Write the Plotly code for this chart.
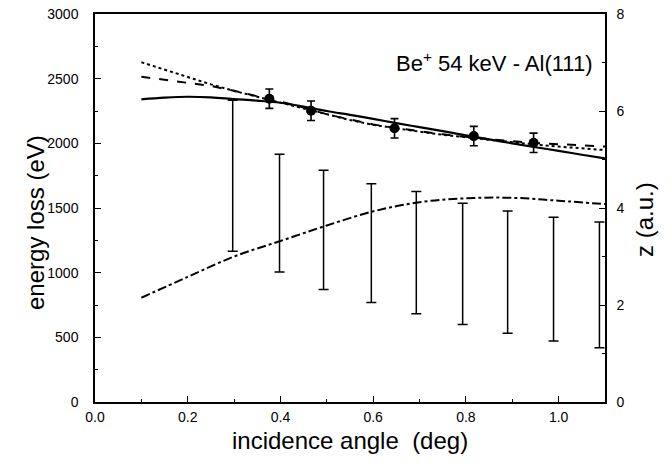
import plotly.graph_objects as go
import numpy as np

# ---- data ----
angle_curve = [0.1, 0.15, 0.2, 0.25, 0.3, 0.35, 0.4, 0.45, 0.5, 0.55, 0.6,
               0.65, 0.7, 0.75, 0.8, 0.85, 0.9, 0.95, 1.0, 1.05, 1.1]
loss_solid = [2340, 2353, 2360, 2355, 2342, 2330, 2314, 2284, 2250, 2220, 2189,
              2156, 2125, 2094, 2062, 2030, 2000, 1970, 1942, 1912, 1883]
loss_dashed = [2515, 2492, 2470, 2444, 2406, 2366, 2322, 2276, 2225, 2184, 2146,
               2118, 2093, 2070, 2050, 2032, 2016, 2003, 1993, 1983, 1975]
loss_dotted = [2627, 2568, 2512, 2456, 2405, 2360, 2316, 2272, 2222, 2180, 2143,
               2114, 2090, 2066, 2046, 2026, 2008, 1990, 1975, 1960, 1948]

angle_z = [0.1, 0.2, 0.3, 0.4, 0.5, 0.6, 0.7, 0.8, 0.9, 1.0, 1.1]
z_curve = [2.15, 2.58, 3.0, 3.32, 3.64, 3.93, 4.12, 4.2, 4.21, 4.15, 4.08]

angle_exp = [0.376, 0.466, 0.646, 0.817, 0.946]
loss_exp = [2345, 2252, 2116, 2056, 2004]
loss_err = [75, 75, 75, 75, 75]

angle_range = [0.297, 0.398, 0.493, 0.596, 0.693, 0.793, 0.890, 0.989, 1.088]
z_top = [6.22, 5.11, 4.78, 4.50, 4.34, 4.10, 3.94, 3.81, 3.71]
z_bottom = [3.11, 2.68, 2.32, 2.05, 1.82, 1.60, 1.42, 1.26, 1.12]

z_mid = (np.array(z_top) + np.array(z_bottom)) / 2
z_half = (np.array(z_top) - np.array(z_bottom)) / 2

FONT = "Liberation Sans, Arial, sans-serif"

fig = go.Figure()

fig.add_trace(go.Scatter(x=angle_curve, y=loss_dotted, mode="lines",
                         line=dict(color="black", width=2, dash="dot"),
                         showlegend=False))
fig.add_trace(go.Scatter(x=angle_curve, y=loss_dashed, mode="lines",
                         line=dict(color="black", width=2, dash="dash"),
                         showlegend=False))
fig.add_trace(go.Scatter(x=angle_curve, y=loss_solid, mode="lines",
                         line=dict(color="black", width=2.2, shape="spline"),
                         showlegend=False))
fig.add_trace(go.Scatter(x=angle_exp, y=loss_exp, mode="markers",
                         marker=dict(color="black", size=10),
                         error_y=dict(type="data", array=loss_err, width=4,
                                      thickness=1.6, color="black"),
                         showlegend=False))
fig.add_trace(go.Scatter(x=angle_z, y=z_curve, mode="lines", yaxis="y2",
                         line=dict(color="black", width=2, dash="dashdot",
                                   shape="spline"),
                         showlegend=False))
fig.add_trace(go.Scatter(x=angle_range, y=z_mid, mode="markers", yaxis="y2",
                         marker=dict(size=1, color="rgba(0,0,0,0)"),
                         error_y=dict(type="data", array=z_half, width=5,
                                      thickness=1.5, color="black"),
                         showlegend=False))

axis_common = dict(showline=True, linecolor="black", linewidth=1.5,
                   ticks="inside", tickcolor="black", ticklen=6, tickwidth=1.2,
                   showgrid=False, zeroline=False, automargin=False,
                   tickfont=dict(family=FONT, size=14, color="black"))

fig.update_layout(
    width=672, height=466,
    margin=dict(l=95, r=67, t=14, b=64),
    plot_bgcolor="white", paper_bgcolor="white",
    font=dict(family=FONT, color="black"),
    xaxis=dict(range=[0, 1.1], dtick=0.2, tickformat=".1f", mirror=True,
               minor=dict(dtick=0.1, ticks="inside", ticklen=3,
                          tickcolor="black"),
               ticklabelstandoff=1,
               **axis_common),
    yaxis=dict(range=[0, 3000], dtick=500,
               minor=dict(dtick=250, ticks="inside", ticklen=3,
                          tickcolor="black"),
               ticklabelstandoff=12,
               **axis_common),
    yaxis2=dict(range=[0, 8], dtick=2, overlaying="y", side="right",
                minor=dict(dtick=1, ticks="inside", ticklen=3,
                           tickcolor="black"),
                ticklabelstandoff=7,
                **axis_common),
    annotations=[
        dict(text="Be<sup>+</sup> 54 keV - Al(111)", x=1.078, y=2630,
             xref="x", yref="y", xanchor="right", yanchor="middle",
             showarrow=False, font=dict(family=FONT, size=22)),
        dict(text="energy loss (eV)", x=35, y=223, xref="paper", yref="paper",
             showarrow=False, textangle=-90, font=dict(family=FONT, size=24)),
        dict(text="z (a.u.)", x=644, y=220, xref="paper", yref="paper",
             showarrow=False, textangle=-90, font=dict(family=FONT, size=24)),
        dict(text="incidence angle  (deg)", x=350, y=440, xref="paper",
             yref="paper", showarrow=False, font=dict(family=FONT, size=24)),
    ],
)

# convert pixel-placed title annotations to paper coords
plot_l, plot_r, plot_t, plot_b = 95, 605, 14, 402
for ann in fig.layout.annotations[1:]:
    px, py = ann.x, ann.y
    ann.x = (px - plot_l) / (plot_r - plot_l)
    ann.y = (plot_b - py) / (plot_b - plot_t)
    ann.xanchor = "center"
    ann.yanchor = "middle"

fig.write_html("out.html", config={"displayModeBar": False},
               post_script="document.body.style.margin='0';")
